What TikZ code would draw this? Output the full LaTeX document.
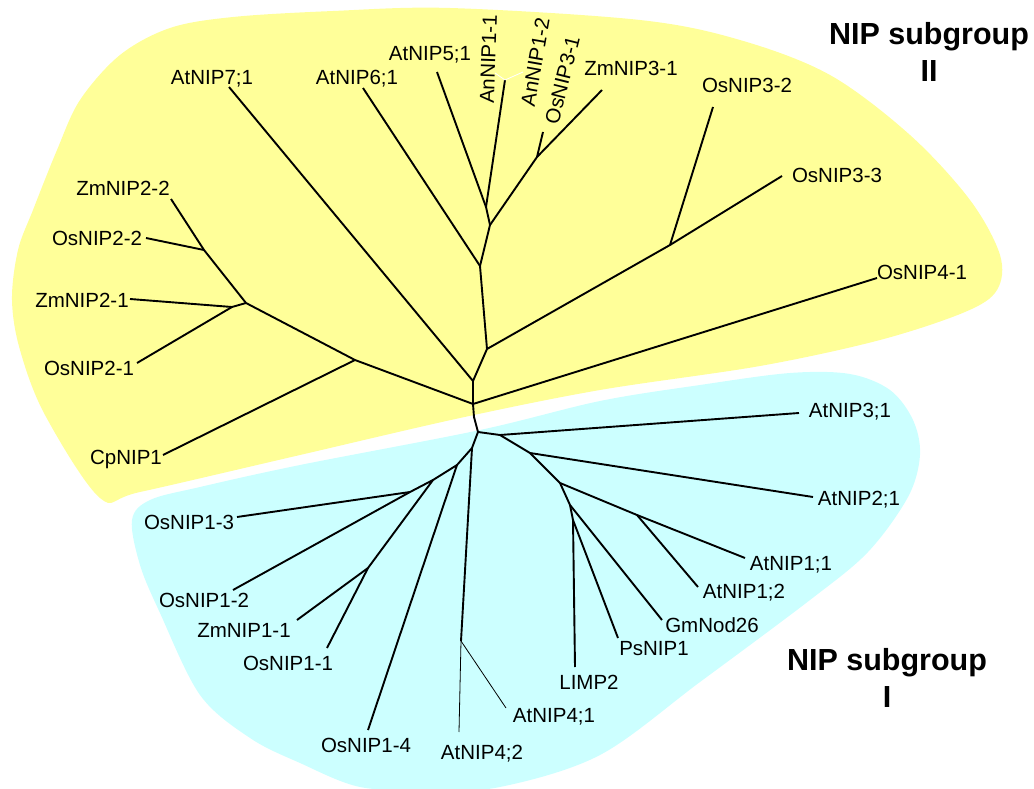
\documentclass[tikz,border=0pt]{standalone}
\usepackage{fontspec}
\setmainfont{Liberation Sans}
\definecolor{ylw}{HTML}{FFFF99}
\definecolor{cyn}{HTML}{CCFFFF}
\begin{document}
\begin{tikzpicture}[x=1pt,y=-1pt,
  br/.style={line width=1.9pt, line join=round},
  thinbr/.style={line width=0.8pt},
  tick/.style={white, line width=0.8pt},
  lbl/.style={font=\fontsize{20.5}{24}\selectfont, inner sep=0pt, text height=14.7pt, text depth=0pt},
  grp/.style={font=\bfseries\fontsize{30.5}{37}\selectfont, align=center, inner sep=0pt}]
\useasboundingbox (0,0) rectangle (1034,789);
% regions
\fill[ylw] plot[smooth cycle, tension=0.55] coordinates {
 (100,498) (45,415) (20,350) (12,300) (18,250) (33,210) (57,150) (80,100) (120,55)
 (170,28) (233,17) (333,11) (450,8) (640,20) (740,40) (830,75) (910,135) (970,200)
 (1000,255) (997,290) (965,312) (880,340) (760,366) (600,390) (460,418) (300,455) (140,492)};
\fill[cyn] plot[smooth cycle, tension=0.55] coordinates {
 (132,520) (150,500) (200,487) (300,465) (480,430) (600,401) (700,385) (790,373)
 (850,374) (890,390) (913,420) (920,455) (908,497) (868,552) (810,600) (700,682)
 (600,755) (500,787) (430,790) (360,787) (300,763) (250,738) (200,695) (160,613) (140,565)};
% junctions
\coordinate (A) at (480,266); \coordinate (U) at (490,225); \coordinate (V) at (486,207);
\coordinate (W) at (537,157); \coordinate (B) at (487,349); \coordinate (X) at (670,245);
\coordinate (C) at (473,381); \coordinate (D) at (473,404); \coordinate (E) at (355,360);
\coordinate (F) at (246,303); \coordinate (Y) at (204,250); \coordinate (Z) at (232,307);
\coordinate (Dg) at (474,417);
\coordinate (G) at (478,432); \coordinate (H) at (500,435); \coordinate (I) at (530,453);
\coordinate (J) at (560,483); \coordinate (K) at (637,515); \coordinate (L) at (570,505);
\coordinate (M) at (573,520); \coordinate (N) at (472,448); \coordinate (Q) at (457,465);
\coordinate (R) at (433,480); \coordinate (T) at (410,492); \coordinate (S) at (368,568);
\coordinate (P) at (461,641);
% tips
\coordinate (tAtNIP7) at (229,87);  \coordinate (tAtNIP6) at (363,88);
\coordinate (tAtNIP5) at (437,72);  \coordinate (tAnNIP11) at (505,80);
\coordinate (tZmNIP31) at (602,90); \coordinate (tOsNIP31) at (543,132);
\coordinate (tOsNIP32) at (713,107); \coordinate (tOsNIP33) at (782,176);
\coordinate (tOsNIP41) at (877,278);
\coordinate (tZmNIP22) at (171,199); \coordinate (tOsNIP22) at (146,238);
\coordinate (tZmNIP21) at (130,299); \coordinate (tOsNIP21) at (137,363);
\coordinate (tCpNIP1) at (163,455);
\coordinate (tAtNIP31) at (799,413); \coordinate (tAtNIP21) at (813,497);
\coordinate (tAtNIP11) at (745,558); \coordinate (tAtNIP12) at (698,587);
\coordinate (tGmNod) at (662,620);  \coordinate (tPsNIP1) at (618,638);
\coordinate (tLIMP2) at (575,667);
\coordinate (tAtNIP41) at (506,708); \coordinate (tAtNIP42) at (459,732);
\coordinate (tOsNIP14) at (368,730); \coordinate (tOsNIP11) at (327,648);
\coordinate (tZmNIP11) at (297,620); \coordinate (tOsNIP12) at (233,590);
\coordinate (tOsNIP13) at (237,517);
\coordinate (wk1) at (495,73); \coordinate (wk2) at (523,72);
% branches
\draw[br] (V) -- (tAtNIP5);
\draw[br] (V) -- (tAnNIP11);
\draw[br] (A) -- (U) -- (V);
\draw[br] (U) -- (W) -- (tZmNIP31);
\draw[br] (W) -- (tOsNIP31);
\draw[br] (A) -- (tAtNIP6);
\draw[br] (A) -- (B);
\draw[br] (B) -- (X) -- (tOsNIP33);
\draw[br] (X) -- (tOsNIP32);
\draw[br] (B) -- (C) -- (tAtNIP7);
\draw[br] (C) -- (D) -- (tOsNIP41);
\draw[br] (D) -- (E) -- (tCpNIP1);
\draw[br] (E) -- (F) -- (Y) -- (tZmNIP22);
\draw[br] (Y) -- (tOsNIP22);
\draw[br] (F) -- (Z) -- (tZmNIP21);
\draw[br] (Z) -- (tOsNIP21);
\draw[br] (D) -- (Dg) -- (G);
\draw[br] (G) -- (H) -- (tAtNIP31);
\draw[br] (H) -- (I) -- (tAtNIP21);
\draw[br] (I) -- (J) -- (K) -- (tAtNIP11);
\draw[br] (K) -- (tAtNIP12);
\draw[br] (J) -- (L) -- (tGmNod);
\draw[br] (L) -- (M) -- (tPsNIP1);
\draw[br] (M) -- (tLIMP2);
\draw[br] (G) -- (N) -- (P);
\draw[thinbr] (P) -- (tAtNIP41);
\draw[thinbr] (P) -- (tAtNIP42);
\draw[br] (N) -- (Q) -- (tOsNIP14);
\draw[br] (Q) -- (R) -- (S) -- (tZmNIP11);
\draw[br] (S) -- (tOsNIP11);
\draw[br] (R) -- (T) -- (tOsNIP12);
\draw[br] (T) -- (tOsNIP13);
\draw[tick] (wk1) -- (tAnNIP11) -- (wk2);
% labels
\node[lbl] (lAtNIP7) at (212,77) {AtNIP7;1};
\node[lbl] (lAtNIP6) at (357,77) {AtNIP6;1};
\node[lbl] (lAtNIP5) at (430,53) {AtNIP5;1};
\node[lbl, rotate=88] (lAnNIP11) at (488,59) {AnNIP1-1};
\node[lbl, rotate=80] (lAnNIP12) at (535,62) {AnNIP1-2};
\node[lbl, rotate=76] (lOsNIP31) at (562,80) {OsNIP3-1};
\node[lbl] (lZmNIP31) at (631,68) {ZmNIP3-1};
\node[lbl] (lOsNIP32) at (747,85) {OsNIP3-2};
\node[lbl] (lOsNIP33) at (837,175) {OsNIP3-3};
\node[lbl] (lOsNIP41) at (922,272) {OsNIP4-1};
\node[lbl] (lZmNIP22) at (123,188) {ZmNIP2-2};
\node[lbl] (lOsNIP22) at (97,238) {OsNIP2-2};
\node[lbl] (lZmNIP21) at (82,300) {ZmNIP2-1};
\node[lbl] (lOsNIP21) at (89,368) {OsNIP2-1};
\node[lbl] (lCpNIP1) at (126,457) {CpNIP1};
\node[lbl] (lAtNIP31) at (850,410) {AtNIP3;1};
\node[lbl] (lAtNIP21) at (859,498) {AtNIP2;1};
\node[lbl] (lAtNIP11) at (791,563) {AtNIP1;1};
\node[lbl] (lAtNIP12) at (744,591) {AtNIP1;2};
\node[lbl] (lGmNod) at (712,625) {GmNod26};
\node[lbl] (lPsNIP1) at (654,648) {PsNIP1};
\node[lbl] (lLIMP2) at (589,682) {LIMP2};
\node[lbl] (lAtNIP41) at (554,715) {AtNIP4;1};
\node[lbl] (lAtNIP42) at (482,752) {AtNIP4;2};
\node[lbl] (lOsNIP14) at (366,745) {OsNIP1-4};
\node[lbl] (lOsNIP11) at (288,663) {OsNIP1-1};
\node[lbl] (lZmNIP11) at (244,630) {ZmNIP1-1};
\node[lbl] (lOsNIP12) at (204,600) {OsNIP1-2};
\node[lbl] (lOsNIP13) at (189,522) {OsNIP1-3};
\node[grp] (g2) at (929,52) {NIP subgroup\\II};
\node[grp] (g1) at (887,678) {NIP subgroup\\I};
\end{tikzpicture}
\end{document}
